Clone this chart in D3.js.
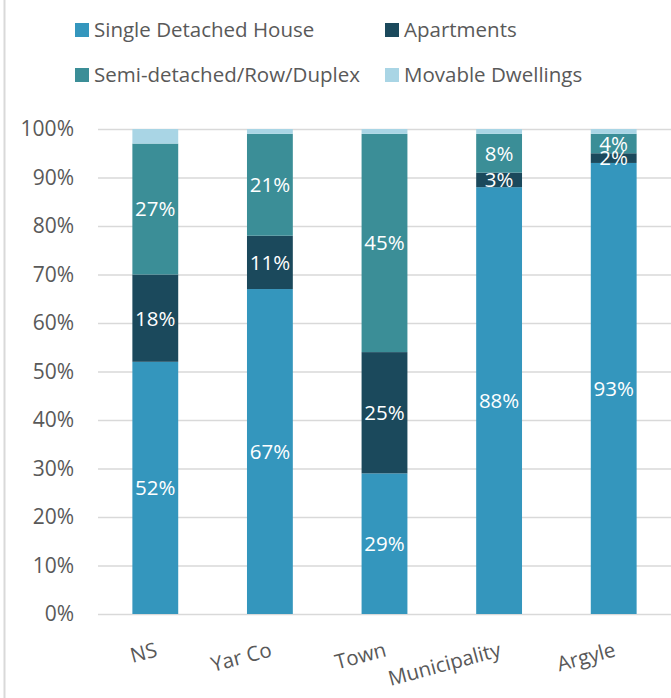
<!DOCTYPE html>
<html>
<head>
<meta charset="utf-8">
<script src="https://cdn.jsdelivr.net/npm/d3@7"></script>
<style>
  body { margin: 0; background: #fff; }
  text { font-family: "Open Sans", "Noto Sans", sans-serif; }
</style>
</head>
<body>
<div id="chart"></div>
<script>
const categories = ['NS', 'Yar Co', 'Town', 'Municipality', 'Argyle']
const seriesNames = ['Single Detached House', 'Apartments', 'Semi-detached/Row/Duplex', 'Movable Dwellings']
const singleDetached = [52, 67, 29, 88, 93]
const apartments = [18, 11, 25, 3, 2]
const semiDetached = [27, 21, 45, 8, 4]
const movable = [3, 1, 1, 1, 1]
const yTicks = [0, 10, 20, 30, 40, 50, 60, 70, 80, 90, 100]
const colors = ['#3496bd', '#1b495c', '#3b8e97', '#a9d5e5']

const width = 671, height = 698
const margin = { top: 129, right: 0, bottom: 84, left: 98 }

const svg = d3.select('#chart').append('svg')
  .attr('width', width)
  .attr('height', height)

// chart border on the left
svg.append('line')
  .attr('x1', 4.5).attr('x2', 4.5)
  .attr('y1', 0).attr('y2', height)
  .style('stroke', '#d9d9d9')
  .style('stroke-width', 2)

const x = d3.scaleBand()
  .domain(categories)
  .range([margin.left, width - margin.right])
  .paddingInner(0.6)
  .paddingOuter(0.3)

const y = d3.scaleLinear()
  .domain([0, 100])
  .range([height - margin.bottom, margin.top])

// gridlines + y labels
const yAxis = svg.append('g')
  .attr('transform', `translate(${margin.left},0)`)
  .call(d3.axisLeft(y).tickValues(yTicks).tickSize(-(width - margin.left - margin.right)).tickFormat(d => d + '%').tickPadding(24))
yAxis.select('.domain').remove()
yAxis.selectAll('.tick line').style('stroke', '#d9d9d9').style('stroke-width', 1.5)
yAxis.selectAll('.tick text').style('fill', '#595959').style('font-size', '21px')

const table = categories.map((c, i) => ({
  category: c,
  s0: singleDetached[i], s1: apartments[i], s2: semiDetached[i], s3: movable[i]
}))
const stack = d3.stack().keys(['s0', 's1', 's2', 's3'])(table)

const layer = svg.selectAll('.layer')
  .data(stack)
  .enter().append('g')
  .attr('class', 'layer')
  .style('fill', (d, i) => colors[i])

layer.selectAll('rect')
  .data(d => d)
  .enter().append('rect')
  .attr('x', d => x(d.data.category))
  .attr('width', x.bandwidth())
  .attr('y', d => y(d[1]))
  .attr('height', d => y(d[0]) - y(d[1]))

// value labels (not on movable dwellings)
stack.slice(0, 3).forEach(s => {
  svg.append('g').selectAll('text')
    .data(s)
    .enter().append('text')
    .attr('x', d => x(d.data.category) + x.bandwidth() / 2)
    .attr('y', d => y((d[0] + d[1]) / 2))
    .attr('dy', '0.36em')
    .attr('text-anchor', 'middle')
    .style('fill', '#fff')
    .style('font-size', '20.5px')
    .text(d => (d[1] - d[0]) + '%')
})

// x labels, rotated
svg.append('g').selectAll('text')
  .data(categories)
  .enter().append('text')
  .attr('text-anchor', 'end')
  .attr('transform', d => `translate(${x(d) + x.bandwidth() / 2 + 3},${height - margin.bottom + 42}) rotate(-15)`)
  .style('fill', '#595959')
  .style('font-size', '20.5px')
  .text(d => d)

// legend
const legendPos = [[75, 30], [385, 30], [75, 75], [385, 75]]
const legend = svg.append('g').selectAll('g')
  .data(seriesNames)
  .enter().append('g')
  .attr('transform', (d, i) => `translate(${legendPos[i][0]},${legendPos[i][1]})`)
legend.append('rect')
  .attr('x', 0).attr('y', -7)
  .attr('width', 14).attr('height', 14)
  .style('fill', (d, i) => colors[i])
legend.append('text')
  .attr('x', 19)
  .attr('dy', '0.36em')
  .style('fill', '#595959')
  .style('font-size', '20.5px')
  .text(d => d)
</script>
</body>
</html>
